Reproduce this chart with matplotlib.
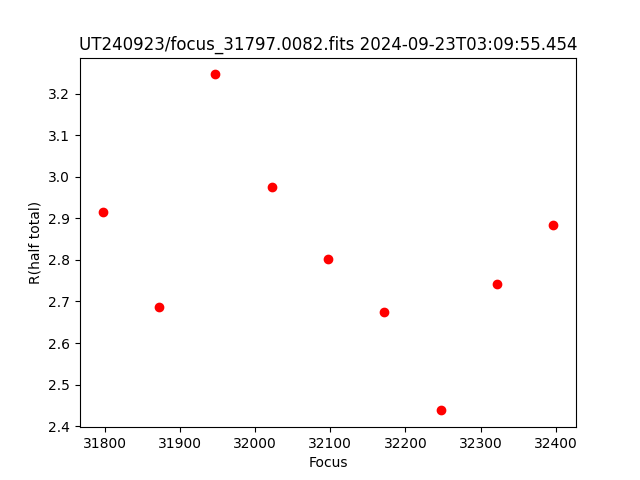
import matplotlib
matplotlib.use("Agg")
import matplotlib.pyplot as plt

focus = [31797, 31872, 31947, 32022, 32097, 32172, 32247, 32322, 32397]  # focus positions
rhalf = [2.916, 2.686, 3.246, 2.976, 2.801, 2.674, 2.438, 2.743, 2.885]  # half total radius

plt.figure(figsize=(6.4, 4.8), dpi=100)
plt.plot(focus, rhalf, 'ro')
plt.title('UT240923/focus_31797.0082.fits 2024-09-23T03:09:55.454')
plt.xlabel('Focus')
plt.ylabel('R(half total)')
plt.savefig('out.png')
